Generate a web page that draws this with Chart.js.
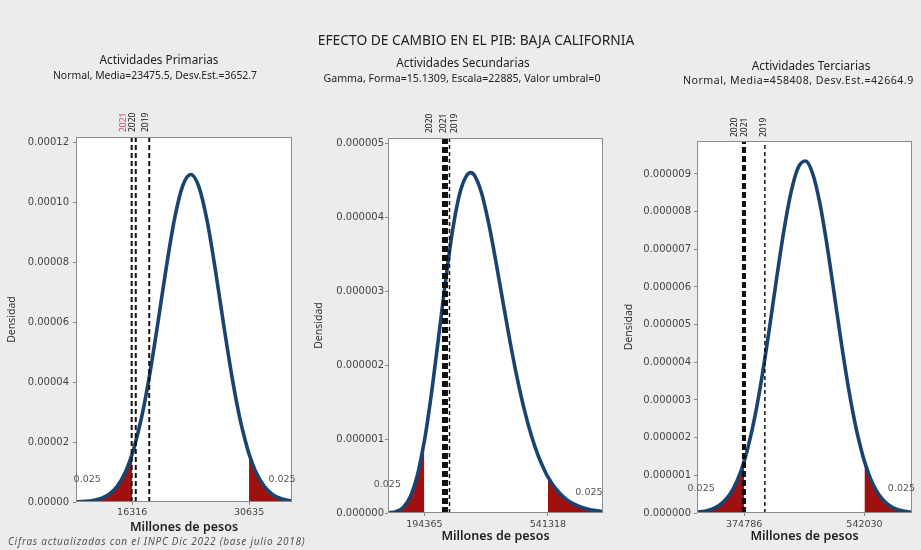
<!DOCTYPE html>
<html lang="es">
<head>
<meta charset="utf-8">
<title>Efecto de cambio en el PIB: Baja California</title>
<script src="https://cdn.jsdelivr.net/npm/chart.js@4.4.1/dist/chart.umd.min.js"></script>
<style>
  html, body { margin: 0; padding: 0; }
  body {
    width: 921px; height: 550px; overflow: hidden; position: relative;
    background: #ececec; color: #222;
    font-family: "Noto Sans", "Open Sans", sans-serif;
  }
  canvas { position: absolute; left: 0; top: 0; }
  .txt { position: absolute; white-space: nowrap; line-height: 1; transform: translate(-50%, -50%); z-index: 5; }
  .left { transform: translate(0, -50%); }
</style>
</head>
<body>
<canvas id="chartPrim" width="921" height="550"></canvas>
<canvas id="chartSec" width="921" height="550"></canvas>
<canvas id="chartTer" width="921" height="550"></canvas>

<div class="txt" style="left:476px; top:40px; font-size:13.8px;">EFECTO DE CAMBIO EN EL PIB: BAJA CALIFORNIA</div>
<div class="txt" style="left:159px; top:60px; font-size:11.8px;">Actividades Primarias</div>
<div class="txt" style="left:155px; top:75px; font-size:10.4px;">Normal, Media=23475.5, Desv.Est.=3652.7</div>
<div class="txt" style="left:463px; top:63px; font-size:11.8px;">Actividades Secundarias</div>
<div class="txt" style="left:462px; top:78px; font-size:10.6px;">Gamma, Forma=15.1309, Escala=22885, Valor umbral=0</div>
<div class="txt" style="left:811px; top:66px; font-size:11.8px;">Actividades Terciarias</div>
<div class="txt left" style="left:683px; top:80px; font-size:10.6px; letter-spacing:0.5px;">Normal, Media=458408, Desv.Est.=42664.9</div>
<div class="txt left" style="left:8px; top:541px; font-size:10px; letter-spacing:0.75px; font-style:italic; color:#555;">Cifras actualizadas con el INPC Dic 2022 (base julio 2018)</div>

<script>
// Actividades Primarias (Normal)
const primX = [9426, 10500, 11500, 12500, 13500, 14500, 15500, 16316, 16500, 17500, 18500, 19500, 20500, 21500, 22500,
  23500, 24500, 25500, 26500, 27500, 28500, 29500, 30500, 30635, 31500, 32500, 33500, 34500, 35500, 35897];
const primY = [6.7e-8, 2.0e-7, 5.1e-7, 1.2e-6, 2.6e-6, 5.3e-6, 1.01e-5, 1.6e-5, 1.76e-5, 2.87e-5, 4.32e-5, 6.04e-5, 7.84e-5, 9.44e-5, 1.054e-4,
  1.092e-4, 1.05e-4, 9.37e-5, 7.75e-5, 5.95e-5, 4.24e-5, 2.8e-5, 1.72e-5, 1.6e-5, 9.8e-6, 5.2e-6, 2.5e-6, 1.15e-6, 4.8e-7, 3.4e-7];
const primCuts = [16316, 30635];
const primYears = ['2021', '2020', '2019'];
const primYearX = [16250, 16750, 18400];
const primYTicks = [0, 0.00002, 0.00004, 0.00006, 0.00008, 0.0001, 0.00012];

// Actividades Secundarias (Gamma)
const secX = [92305, 115000, 135000, 155000, 175000, 194365, 195000, 215000, 235000, 255000, 275000, 295000, 315000, 325000, 335000,
  355000, 375000, 395000, 415000, 435000, 455000, 475000, 495000, 515000, 535000, 541318, 555000, 575000, 595000, 615000,
  635000, 655000, 675000, 695958];
const secY = [2.3e-9, 1.9e-8, 7.6e-8, 2.22e-7, 5.14e-7, 9.73e-7, 9.89e-7, 1.643e-6, 2.407e-6, 3.188e-6, 3.867e-6, 4.351e-6, 4.587e-6, 4.611e-6, 4.574e-6,
  4.334e-6, 3.922e-6, 3.412e-6, 2.862e-6, 2.32e-6, 1.828e-6, 1.401e-6, 1.046e-6, 7.64e-7, 5.46e-7, 4.89e-7, 3.83e-7, 2.64e-7, 1.78e-7, 1.19e-7,
  7.8e-8, 5.0e-8, 3.2e-8, 2.0e-8];
const secCuts = [194365, 541318];
const secYears = ['2020', '2021', '2019'];
const secYearX = [248100, 256500, 265000];
const secYTicks = [0, 0.000001, 0.000002, 0.000003, 0.000004, 0.000005];

// Actividades Terciarias (Normal)
const terX = [309281, 320000, 330000, 340000, 350000, 360000, 370000, 374786, 380000, 390000, 400000, 410000, 420000, 430000, 440000,
  450000, 460000, 470000, 480000, 490000, 500000, 510000, 520000, 530000, 540000, 542030, 550000, 560000, 570000, 580000,
  590000, 600000, 608093];
const terY = [2.1e-8, 4.8e-8, 1.01e-7, 1.99e-7, 3.71e-7, 6.54e-7, 1.092e-6, 1.37e-6, 1.728e-6, 2.587e-6, 3.664e-6, 4.913e-6, 6.236e-6, 7.492e-6, 8.52e-6,
  9.171e-6, 9.344e-6, 9.013e-6, 8.227e-6, 7.109e-6, 5.814e-6, 4.501e-6, 3.298e-6, 2.288e-6, 1.502e-6, 1.37e-6, 9.33e-7, 5.49e-7, 3.06e-7, 1.61e-7,
  8.0e-8, 3.8e-8, 2.0e-8];
const terCuts = [374786, 542030];
const terYears = ['2020', '2021', '2019'];
const terYearX = [373800, 375300, 403600];
const terYTicks = [0, 0.000001, 0.000002, 0.000003, 0.000004, 0.000005, 0.000006, 0.000007, 0.000008, 0.000009];

const tailText = ['0.025', '0.025'];

Chart.defaults.font.family = '"Noto Sans", "Open Sans", sans-serif';
Chart.defaults.color = '#444';

// fondo blanco, marco, etiquetas de años y de colas
const panelDecor = {
  id: 'panelDecor',
  beforeDraw(chart) {
    const { ctx, chartArea: a } = chart;
    ctx.save();
    ctx.fillStyle = '#ffffff';
    ctx.fillRect(a.left, a.top, a.width, a.height);
    ctx.restore();
  },
  afterDraw(chart, args, opts) {
    const { ctx, chartArea: a, scales } = chart;
    ctx.save();
    ctx.strokeStyle = '#8c8c8c';
    ctx.lineWidth = 1;
    ctx.strokeRect(a.left + 0.5, a.top + 0.5, a.width - 1, a.height - 1);

    ctx.font = '8.5px "Noto Sans"';
    ctx.textAlign = 'left';
    ctx.textBaseline = 'middle';
    opts.years.forEach((yr, i) => {
      const px = scales.x.getPixelForValue(opts.yearX[i]) + opts.yearShift[i];
      ctx.save();
      ctx.translate(px, a.top - opts.yearGap);
      ctx.rotate(-Math.PI / 2);
      ctx.fillStyle = opts.yearColors[i];
      ctx.fillText(yr, 0, 0);
      ctx.restore();
    });

    ctx.font = '9.5px "DejaVu Sans"';
    ctx.textAlign = 'center';
    ctx.fillStyle = '#555';
    tailText.forEach((t, i) => {
      const px = scales.x.getPixelForValue(opts.cuts[i]) + opts.tailDx[i];
      ctx.fillText(t, px, a.bottom - opts.tailDy[i]);
    });
    ctx.restore();
  }
};

function buildPanel(id, p) {
  const curve = p.x.map((v, i) => ({ x: v, y: p.y[i] }));
  const lowTail = curve.filter(pt => pt.x <= p.cuts[0]);
  const highTail = curve.filter(pt => pt.x >= p.cuts[1]);

  const datasets = [];
  p.yearX.forEach((v, i) => {
    datasets.push({
      label: p.years[i],
      data: [{ x: v, y: 0 }, { x: v, y: p.yMax }],
      borderColor: '#111',
      borderWidth: p.yearWidth[i],
      borderDash: p.yearDash[i],
      order: 0
    });
  });
  datasets.push({
    label: 'Densidad',
    data: curve,
    borderColor: '#1a4470',
    borderWidth: 3.6,
    cubicInterpolationMode: 'monotone',
    order: 1
  });
  [lowTail, highTail].forEach(tail => {
    datasets.push({
      label: 'cola',
      data: tail,
      borderWidth: 0,
      backgroundColor: '#a0100e',
      fill: 'origin',
      cubicInterpolationMode: 'monotone',
      order: 2
    });
  });

  new Chart(document.getElementById(id), {
    type: 'scatter',
    data: { datasets },
    options: {
      responsive: false,
      animation: false,
      showLine: true,
      elements: { point: { radius: 0, hoverRadius: 0 } },
      layout: {
        padding: {
          left: p.area.left - p.yW,
          top: p.area.top,
          right: 921 - p.area.right,
          bottom: 550 - p.area.bottom - p.xH
        }
      },
      plugins: {
        legend: { display: false },
        tooltip: { enabled: false },
        panelDecor: {
          years: p.years, yearX: p.yearX, yearShift: p.yearShift, yearColors: p.yearColors, yearGap: p.yearGap,
          cuts: p.cuts, tailDx: p.tailDx, tailDy: p.tailDy
        }
      },
      scales: {
        x: {
          type: 'linear',
          min: p.xMin,
          max: p.xMax,
          afterBuildTicks: s => { s.ticks = p.cuts.map(v => ({ value: v })); },
          afterFit: s => { s.height = p.xH; },
          grid: { display: true, drawOnChartArea: false, drawTicks: true, tickLength: 3, color: '#888' },
          border: { display: false },
          ticks: {
            autoSkip: false, maxRotation: 0, padding: p.xTickPad, color: '#444',
            font: { size: 9.5, family: '"DejaVu Sans", sans-serif' },
            callback: v => String(v)
          },
          title: { display: true, text: 'Millones de pesos', padding: 0, color: '#222', font: { size: 12.5, weight: '600' } }
        },
        y: {
          type: 'linear',
          min: 0,
          max: p.yMax,
          afterBuildTicks: s => { s.ticks = p.yTicks.map(v => ({ value: v })); },
          afterFit: s => { s.width = p.yW; },
          grid: { display: true, drawOnChartArea: false, drawTicks: true, tickLength: 3, color: '#888' },
          border: { display: false },
          ticks: {
            autoSkip: false, padding: p.yTickPad, color: '#444',
            font: { size: 10, family: '"DejaVu Sans", sans-serif' },
            callback: v => v.toFixed(p.dec)
          },
          title: { display: true, text: 'Densidad', padding: 0, color: '#333', font: { size: 10.5 } }
        }
      }
    },
    plugins: [panelDecor]
  });
}

buildPanel('chartPrim', {
  x: primX, y: primY, cuts: primCuts, years: primYears, yearX: primYearX, yTicks: primYTicks,
  xMin: 9426, xMax: 35897, yMax: 0.0001217, dec: 5,
  area: { left: 76, right: 292, top: 137, bottom: 502 }, yW: 70, xH: 33, xTickPad: 2, yTickPad: 4,
  yearWidth: [2, 2, 2], yearDash: [[5, 3], [5, 3], [5, 3]],
  yearShift: [-8, -3, -4], yearColors: ['#d8386e', '#111', '#111'], yearGap: 5,
  tailDx: [-45, 33], tailDy: [22, 22]
});

buildPanel('chartSec', {
  x: secX, y: secY, cuts: secCuts, years: secYears, yearX: secYearX, yTicks: secYTicks,
  xMin: 92305, xMax: 695958, yMax: 0.00000508, dec: 6,
  area: { left: 388, right: 603, top: 138, bottom: 513 }, yW: 75, xH: 31, xTickPad: 3, yTickPad: 1,
  yearWidth: [3, 3, 1.5], yearDash: [[6, 3], [6, 3], [4, 3]],
  yearShift: [-14, -3, 5], yearColors: ['#111', '#111', '#111'], yearGap: 5,
  tailDx: [-37, 41], tailDy: [28, 20]
});

buildPanel('chartTer', {
  x: terX, y: terY, cuts: terCuts, years: terYears, yearX: terYearX, yTicks: terYTicks,
  xMin: 309281, xMax: 608093, yMax: 0.000009875, dec: 6,
  area: { left: 697, right: 912, top: 141, bottom: 513 }, yW: 74, xH: 31, xTickPad: 3, yTickPad: 3,
  yearWidth: [3, 3, 1.5], yearDash: [[6, 3], [6, 3], [4, 3]],
  yearShift: [-9, 0, -1], yearColors: ['#111', '#111', '#111'], yearGap: 4,
  tailDx: [-43, 37], tailDy: [24, 24]
});
</script>
</body>
</html>
